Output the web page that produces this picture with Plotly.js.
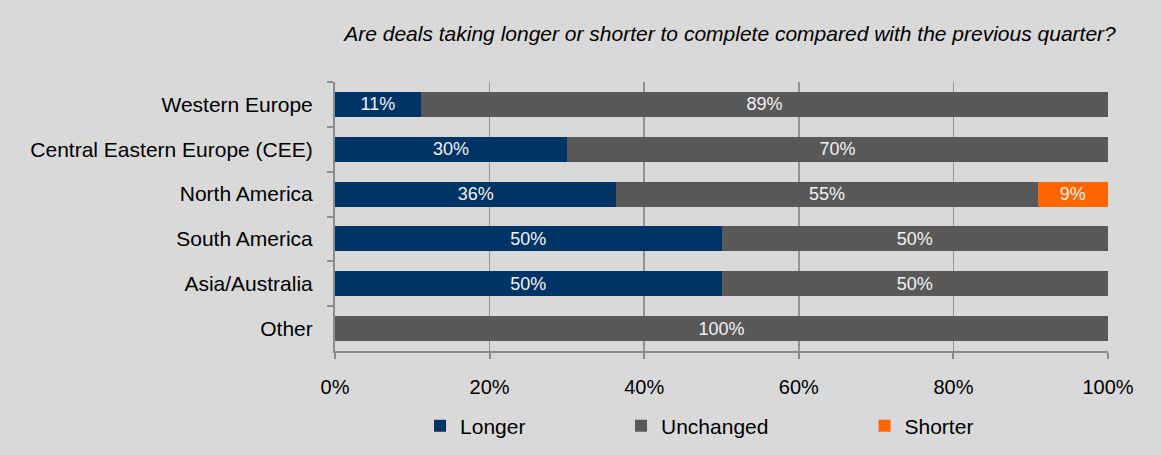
<!DOCTYPE html>
<html>
<head>
<meta charset="utf-8">
<script src="https://cdn.plot.ly/plotly-3.0.1.min.js"></script>
<style>
html,body{margin:0;padding:0;background:#d9d9d9;}
#chart{width:1161px;height:455px;}
</style>
</head>
<body>
<div id="chart"></div>
<script>
const categories = ["Western Europe", "Central Eastern Europe (CEE)", "North America", "South America", "Asia/Australia", "Other"];
const longer    = [11.1, 30.0, 36.4, 50, 50, 0];
const unchanged = [88.9, 70.0, 54.5, 50, 50, 100];
const shorter   = [0, 0, 9.1, 0, 0, 0];
const seriesNames = ["Longer", "Unchanged", "Shorter"];
const colors = ["#003366", "#595959", "#ff6600"];
const xTickVals = [0, 20, 40, 60, 80, 100];
const xTickText = ["0%", "20%", "40%", "60%", "80%", "100%"];

const FONT = "Liberation Sans, Arial, sans-serif";
const label = v => v > 0 ? Math.round(v) + "%" : "";

const series = [longer, unchanged, shorter];
const legendIds = ["legend", "legend2", "legend3"];
const traces = series.map((vals, i) => ({
  type: "bar",
  orientation: "h",
  name: seriesNames[i],
  y: categories,
  x: vals,
  text: vals.map(label),
  textposition: "inside",
  insidetextanchor: "middle",
  constraintext: "none",
  textangle: 0,
  textfont: {family: FONT, size: 18, color: "#f2f2f2"},
  marker: {color: colors[i], line: {width: 0}},
  hoverinfo: "skip",
  legend: legendIds[i]
}));

const legendBase = {
  orientation: "h",
  yanchor: "middle",
  y: -0.279,
  xanchor: "left",
  bgcolor: "rgba(0,0,0,0)",
  borderwidth: 0,
  font: {family: FONT, size: 21, color: "#000000"}
};

const layout = {
  width: 1161,
  height: 455,
  paper_bgcolor: "#d9d9d9",
  plot_bgcolor: "#d9d9d9",
  margin: {l: 335, r: 53, t: 82, b: 104, autoexpand: false},
  barmode: "stack",
  bargap: 0.44,
  font: {family: FONT, size: 20, color: "#000000"},
  title: {
    text: "<i>Are deals taking longer or shorter to complete compared with the previous quarter?</i>",
    font: {family: FONT, size: 21, color: "#000000"},
    xref: "container", x: 730/1161, xanchor: "center",
    yref: "container", y: 1 - 34/455, yanchor: "middle"
  },
  xaxis: {
    range: [0, 100],
    tickvals: xTickVals,
    ticktext: xTickText,
    showgrid: true,
    gridcolor: "#939393",
    gridwidth: 1.5,
    zeroline: false,
    showline: true,
    linecolor: "#8c8c8c",
    linewidth: 2,
    ticks: "outside",
    ticklen: 6,
    tickwidth: 2,
    tickcolor: "#8c8c8c",
    ticklabelstandoff: 11,
    tickfont: {family: FONT, size: 20, color: "#000000"},
    fixedrange: true
  },
  yaxis: {
    type: "category",
    autorange: "reversed",
    showgrid: false,
    zeroline: false,
    showline: true,
    linecolor: "#8c8c8c",
    linewidth: 2,
    ticks: "outside",
    tickson: "boundaries",
    ticklen: 6,
    tickwidth: 2,
    tickcolor: "#8c8c8c",
    ticklabelstandoff: 16,
    tickfont: {family: FONT, size: 21, color: "#000000"},
    fixedrange: true
  },
  legend: Object.assign({}, legendBase, {x: 0.11}),
  legend2: Object.assign({}, legendBase, {x: 0.37}),
  legend3: Object.assign({}, legendBase, {x: 0.685}),
  showlegend: true
};

Plotly.newPlot("chart", traces, layout, {displayModeBar: false, staticPlot: true});
</script>
</body>
</html>
